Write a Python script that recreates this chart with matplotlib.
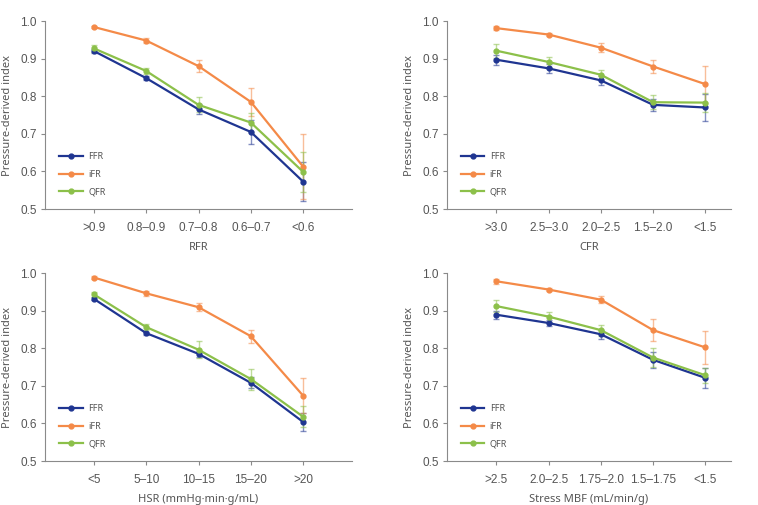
import numpy as np
import matplotlib.pyplot as plt

# Pressure-derived indices by category of each physiologic measure

series = ["FFR", "iFR", "QFR"]
colors = {"FFR": "#1f3591", "iFR": "#f48a48", "QFR": "#8cc04a"}

# RFR
rfr_cats = [">0.9", "0.8\u20130.9", "0.7\u20130.8", "0.6\u20130.7", "<0.6"]
rfr_ffr = [0.920, 0.848, 0.765, 0.705, 0.573]
rfr_ffr_err = [0.005, 0.006, 0.013, 0.032, 0.053]
rfr_ifr = [0.984, 0.948, 0.880, 0.785, 0.613]
rfr_ifr_err = [0.003, 0.007, 0.015, 0.038, 0.086]
rfr_qfr = [0.927, 0.867, 0.777, 0.730, 0.599]
rfr_qfr_err = [0.009, 0.009, 0.020, 0.025, 0.053]

# CFR
cfr_cats = [">3.0", "2.5\u20133.0", "2.0\u20132.5", "1.5\u20132.0", "<1.5"]
cfr_ffr = [0.897, 0.874, 0.842, 0.777, 0.770]
cfr_ffr_err = [0.013, 0.011, 0.011, 0.015, 0.035]
cfr_ifr = [0.981, 0.964, 0.929, 0.879, 0.832]
cfr_ifr_err = [0.005, 0.005, 0.012, 0.018, 0.049]
cfr_qfr = [0.921, 0.891, 0.857, 0.784, 0.783]
cfr_qfr_err = [0.019, 0.013, 0.014, 0.019, 0.025]

# HSR
hsr_cats = ["<5", "5\u201310", "10\u201315", "15\u201320", ">20"]
hsr_ffr = [0.931, 0.840, 0.785, 0.708, 0.604]
hsr_ffr_err = [0.004, 0.004, 0.008, 0.015, 0.025]
hsr_ifr = [0.988, 0.946, 0.909, 0.832, 0.674]
hsr_ifr_err = [0.003, 0.006, 0.010, 0.017, 0.047]
hsr_qfr = [0.943, 0.856, 0.796, 0.718, 0.618]
hsr_qfr_err = [0.006, 0.008, 0.022, 0.028, 0.028]

# Stress MBF
mbf_cats = [">2.5", "2.0\u20132.5", "1.75\u20132.0", "1.5\u20131.75", "<1.5"]
mbf_ffr = [0.889, 0.867, 0.837, 0.769, 0.721]
mbf_ffr_err = [0.011, 0.009, 0.012, 0.022, 0.027]
mbf_ifr = [0.978, 0.956, 0.929, 0.848, 0.802]
mbf_ifr_err = [0.006, 0.005, 0.009, 0.030, 0.044]
mbf_qfr = [0.912, 0.884, 0.848, 0.775, 0.728]
mbf_qfr_err = [0.015, 0.013, 0.015, 0.025, 0.020]

panels = [
    ("RFR", rfr_cats, [(rfr_ffr, rfr_ffr_err), (rfr_ifr, rfr_ifr_err), (rfr_qfr, rfr_qfr_err)]),
    ("CFR", cfr_cats, [(cfr_ffr, cfr_ffr_err), (cfr_ifr, cfr_ifr_err), (cfr_qfr, cfr_qfr_err)]),
    ("HSR (mmHg\u00b7min\u00b7g/mL)", hsr_cats, [(hsr_ffr, hsr_ffr_err), (hsr_ifr, hsr_ifr_err), (hsr_qfr, hsr_qfr_err)]),
    ("Stress MBF (mL/min/g)", mbf_cats, [(mbf_ffr, mbf_ffr_err), (mbf_ifr, mbf_ifr_err), (mbf_qfr, mbf_qfr_err)]),
]

# axes rectangles (figure fractions)
rects = [
    [0.0594, 0.5861, 0.405, 0.3723],
    [0.5897, 0.5861, 0.3747, 0.3723],
    [0.0594, 0.0871, 0.405, 0.3723],
    [0.5897, 0.0871, 0.3747, 0.3723],
]
xlims = [(-0.937, 4.937), (-0.946, 4.49), (-0.937, 4.937), (-0.946, 4.49)]

fig = plt.figure(figsize=(7.58, 5.05), dpi=100)
axis_gray = "#8a8a8a"
text_gray = "#555555"

for (xlabel, cats, data), rect, xl in zip(panels, rects, xlims):
    ax = fig.add_axes(rect)
    x = np.arange(len(cats))
    for name, (vals, errs) in zip(series, data):
        c = colors[name]
        ax.errorbar(x, vals, yerr=errs, fmt="none", ecolor=c, alpha=0.55,
                    elinewidth=1.0, capsize=2.5, capthick=1.0, zorder=2)
        ax.plot(x, vals, "-o", color=c, lw=1.6, ms=3.5, label=name, zorder=3)

    ax.set_xlim(*xl)
    ax.set_ylim(0.5, 1.0)
    ax.set_yticks([0.5, 0.6, 0.7, 0.8, 0.9, 1.0])
    ax.set_yticklabels(["0.5", "0.6", "0.7", "0.8", "0.9", "1.0"],
                       fontfamily="Liberation Sans", fontsize=8.5, color=text_gray)
    ax.set_xticks(x)
    ax.set_xticklabels(cats, fontfamily="Liberation Sans", fontsize=8.5, color=text_gray)
    ax.tick_params(axis="both", length=3, width=0.8, color=axis_gray, pad=3)
    ax.tick_params(axis="x", pad=6)
    for s in ["top", "right"]:
        ax.spines[s].set_visible(False)
    for s in ["left", "bottom"]:
        ax.spines[s].set_color(axis_gray)
        ax.spines[s].set_linewidth(0.8)

    ax.set_xlabel(xlabel, fontfamily="Noto Sans", fontsize=8, color=text_gray, labelpad=6)
    ax.set_ylabel("Pressure-derived index", fontfamily="Noto Sans", fontsize=8,
                  color=text_gray, labelpad=5)

    leg = ax.legend(loc="lower left", bbox_to_anchor=(0.02, 0.024), frameon=False,
                    handlelength=2.6, handletextpad=0.6, labelspacing=0.95,
                    prop={"family": "Noto Sans", "size": 6.5})
    for t in leg.get_texts():
        t.set_color(text_gray)

fig.savefig("out.png", dpi=100)
